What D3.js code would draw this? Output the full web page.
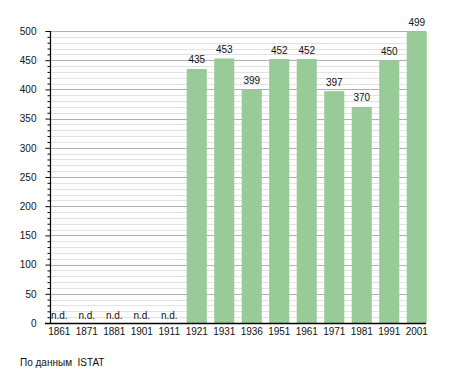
<!DOCTYPE html>
<html>
<head>
<meta charset="utf-8">
<script src="https://cdn.jsdelivr.net/npm/d3@7"></script>
<style>
  body { margin: 0; background: #fff; }
  text { font-family: "Liberation Sans", Arial, sans-serif; fill: #111; white-space: pre; }
</style>
</head>
<body>
<div id="chart"></div>
<script>
// data
var years = ["1861", "1871", "1881", "1901", "1911", "1921", "1931", "1936", "1951", "1961", "1971", "1981", "1991", "2001"];
var population = [null, null, null, null, null, 435, 453, 399, 452, 452, 397, 370, 450, 499];
var majorTicks = [0, 50, 100, 150, 200, 250, 300, 350, 400, 450, 500];
var sourceNote = "По данным  ISTAT";

var width = 455, height = 373;
var plotLeft = 50, plotRight = 426, plotTop = 31, plotBottom = 323;

var svg = d3.select("#chart")
    .append("svg")
    .attr("width", width)
    .attr("height", height);

var x = d3.scaleBand()
    .domain(years)
    .range([45.5, 430.5])
    .paddingInner(0.27)
    .paddingOuter(0.135);

var y = d3.scaleLinear()
    .domain([0, 500])
    .range([plotBottom, plotTop]);

var minorTicks = d3.range(0, 501, 10).filter(function (d) { return d % 50 != 0; });

// grid
svg.append("g").selectAll("line")
    .data(minorTicks)
    .enter().append("line")
    .attr("x1", plotLeft).attr("x2", plotRight)
    .attr("y1", function (d) { return Math.round(y(d)) + 0.5; })
    .attr("y2", function (d) { return Math.round(y(d)) + 0.5; })
    .style("stroke", "#e2e2e2");

svg.append("g").selectAll("line")
    .data(majorTicks.slice(1))
    .enter().append("line")
    .attr("x1", plotLeft).attr("x2", plotRight)
    .attr("y1", function (d) { return Math.round(y(d)) + 0.5; })
    .attr("y2", function (d) { return Math.round(y(d)) + 0.5; })
    .style("stroke", "#b0b0b0");

// bars
var withData = years.map(function (yr, i) { return { year: yr, value: population[i] }; });

svg.append("g").selectAll("rect")
    .data(withData.filter(function (d) { return d.value != null; }))
    .enter().append("rect")
    .attr("x", function (d) { return x(d.year); })
    .attr("width", x.bandwidth())
    .attr("y", function (d) { return y(d.value); })
    .attr("height", function (d) { return y(0) - y(d.value); })
    .style("fill", "#98cb98");

svg.append("g").selectAll("text")
    .data(withData)
    .enter().append("text")
    .attr("x", function (d) { return x(d.year) + x.bandwidth() / 2; })
    .attr("y", function (d) { return d.value == null ? y(0) - 4.5 : y(d.value) - 5.5; })
    .attr("text-anchor", "middle")
    .style("font-size", "10px")
    .text(function (d) { return d.value == null ? "n.d." : d.value; });

// y axis
var yAxis = svg.append("g")
    .attr("transform", "translate(" + (plotLeft + 0.5) + ",0)")
    .call(d3.axisLeft(y).tickValues(majorTicks).tickSize(5).tickPadding(9));
yAxis.select(".domain").remove();
yAxis.selectAll("text").style("font-size", "10px");
yAxis.selectAll("line").style("stroke", "#000");

svg.append("g")
    .attr("transform", "translate(" + (plotLeft + 0.5) + ",0)")
    .call(d3.axisLeft(y).tickValues(minorTicks).tickSize(3).tickFormat(""))
    .call(function (g) {
        g.select(".domain").remove();
        g.selectAll("line").style("stroke", "#000");
    });

svg.append("line")
    .attr("x1", plotLeft + 0.5).attr("x2", plotLeft + 0.5)
    .attr("y1", plotTop).attr("y2", plotBottom + 1)
    .style("stroke", "#000")
    .style("stroke-width", 1.2);

svg.append("line")
    .attr("x1", plotLeft - 5).attr("x2", plotRight)
    .attr("y1", plotBottom + 0.5).attr("y2", plotBottom + 0.5)
    .style("stroke", "#000")
    .style("stroke-width", 1.5);

// x labels
svg.append("g").selectAll("text")
    .data(years)
    .enter().append("text")
    .attr("x", function (d) { return x(d) + x.bandwidth() / 2; })
    .attr("y", 335)
    .attr("text-anchor", "middle")
    .style("font-size", "10px")
    .text(function (d) { return d; });

svg.append("text")
    .attr("x", 20)
    .attr("y", 366)
    .style("font-size", "10px")
    .text(sourceNote);
</script>
</body>
</html>
